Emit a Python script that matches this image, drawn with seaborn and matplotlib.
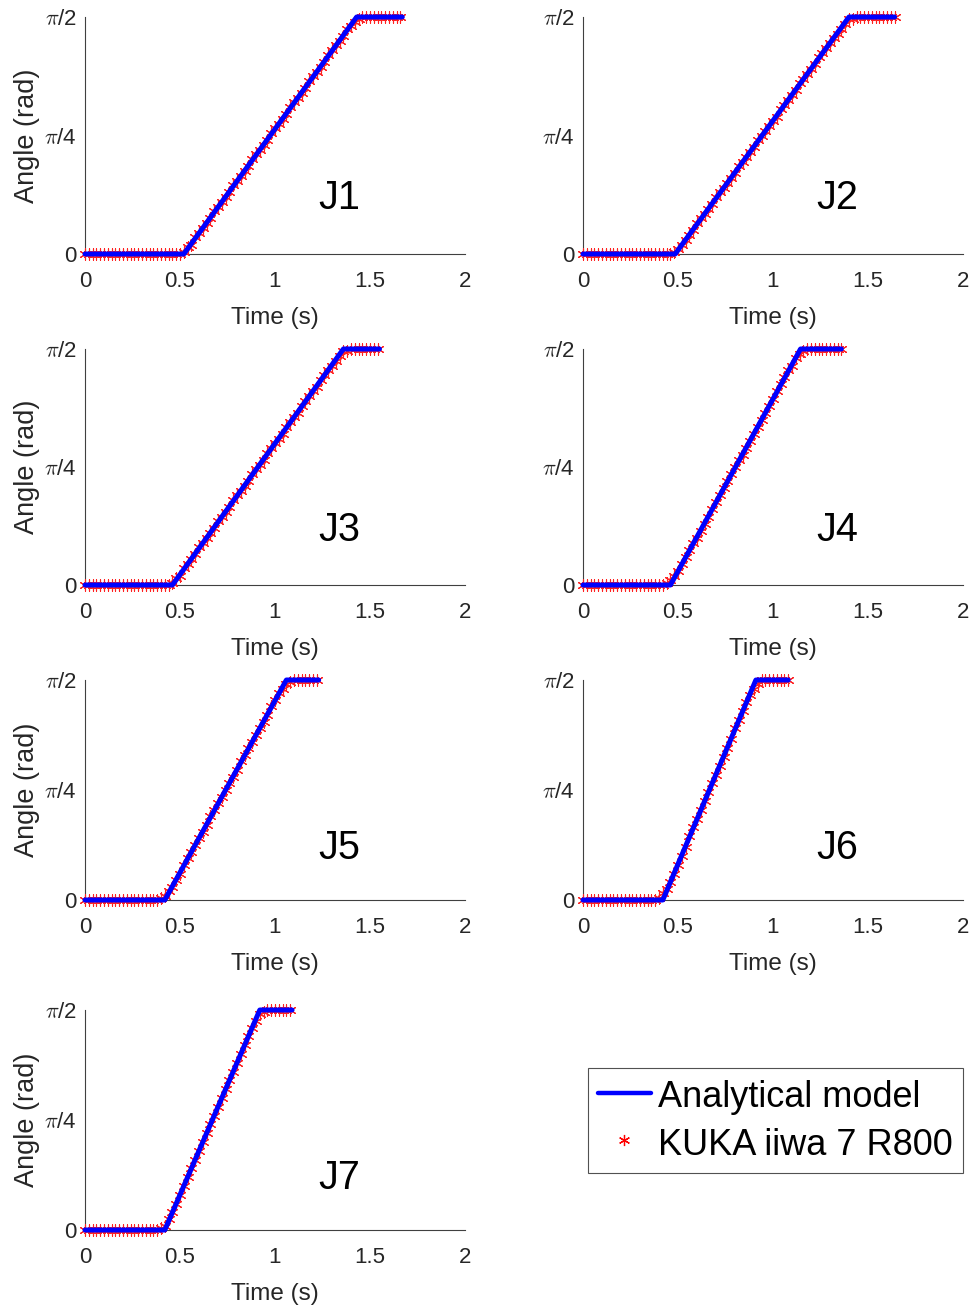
import numpy as np
import pandas as pd
import matplotlib
matplotlib.use("Agg")
import matplotlib.pyplot as plt
from matplotlib.lines import Line2D
import seaborn as sns

# ---------------- data (angles as fractions of pi/2) ----------------
joints = ["J1", "J2", "J3", "J4", "J5", "J6", "J7"]

# analytical model: knot times (s) [start, ramp begin, ramp end, stop]
model_t = {
    "J1": [0.0, 0.52, 1.43, 1.67],
    "J2": [0.0, 0.485, 1.40, 1.64],
    "J3": [0.0, 0.46, 1.36, 1.55],
    "J4": [0.0, 0.46, 1.145, 1.36],
    "J5": [0.0, 0.42, 1.06, 1.23],
    "J6": [0.0, 0.42, 0.91, 1.08],
    "J7": [0.0, 0.42, 0.92, 1.09],
}
model_v = [0.0, 0.0, 1.0, 1.0]

# measured KUKA samples (sample period 0.02 s)
sample_dt = 0.02
kuka_j1 = [0.0] * 26 + [0.01, 0.03, 0.04, 0.07, 0.09, 0.11, 0.13, 0.15, 0.18, 0.20,
                        0.22, 0.24, 0.26, 0.29, 0.31, 0.33, 0.35, 0.37, 0.40, 0.42,
                        0.44, 0.46, 0.48, 0.51, 0.53, 0.55, 0.57, 0.59, 0.62, 0.64,
                        0.66, 0.68, 0.70, 0.73, 0.75, 0.77, 0.79, 0.81, 0.84, 0.86,
                        0.88, 0.90, 0.92, 0.95, 0.96, 0.98, 0.99] + [1.0] * 11
kuka_j2 = [0.0] * 24 + [0.01, 0.02, 0.04, 0.06, 0.08, 0.10, 0.13, 0.15, 0.17, 0.19,
                        0.21, 0.24, 0.26, 0.28, 0.30, 0.32, 0.34, 0.37, 0.39, 0.41,
                        0.43, 0.45, 0.48, 0.50, 0.52, 0.54, 0.56, 0.58, 0.61, 0.63,
                        0.65, 0.67, 0.69, 0.72, 0.74, 0.76, 0.78, 0.80, 0.83, 0.85,
                        0.87, 0.89, 0.91, 0.93, 0.95, 0.97, 0.99, 0.99] + [1.0] * 11
kuka_j3 = [0.0] * 23 + [0.01, 0.03, 0.04, 0.07, 0.09, 0.11, 0.13, 0.16, 0.18, 0.20,
                        0.22, 0.24, 0.27, 0.29, 0.31, 0.33, 0.36, 0.38, 0.40, 0.42,
                        0.44, 0.47, 0.49, 0.51, 0.53, 0.56, 0.58, 0.60, 0.62, 0.64,
                        0.67, 0.69, 0.71, 0.73, 0.76, 0.78, 0.80, 0.82, 0.84, 0.87,
                        0.89, 0.91, 0.93, 0.95, 0.97, 0.99, 0.99] + [1.0] * 8
kuka_j4 = [0.0] * 22 + [0.01, 0.02, 0.04, 0.06, 0.09, 0.12, 0.15, 0.18, 0.20, 0.23,
                        0.26, 0.29, 0.32, 0.35, 0.38, 0.41, 0.44, 0.47, 0.50, 0.53,
                        0.55, 0.58, 0.61, 0.64, 0.67, 0.70, 0.73, 0.76, 0.79, 0.82,
                        0.85, 0.88, 0.91, 0.93, 0.96, 0.98, 0.99] + [1.0] * 10
kuka_j5 = [0.0] * 20 + [0.01, 0.02, 0.04, 0.06, 0.09, 0.12, 0.16, 0.19, 0.22, 0.25,
                        0.28, 0.31, 0.34, 0.38, 0.41, 0.44, 0.47, 0.50, 0.53, 0.56,
                        0.59, 0.63, 0.66, 0.69, 0.72, 0.75, 0.78, 0.81, 0.84, 0.88,
                        0.91, 0.94, 0.96, 0.98, 0.99] + [1.0] * 7
kuka_j6 = [0.0] * 20 + [0.01, 0.03, 0.05, 0.08, 0.12, 0.16, 0.20, 0.24, 0.29, 0.33,
                        0.37, 0.41, 0.45, 0.49, 0.53, 0.57, 0.61, 0.65, 0.69, 0.73,
                        0.78, 0.82, 0.86, 0.90, 0.93, 0.96, 0.98] + [1.0] * 8
kuka_j7 = [0.0] * 20 + [0.01, 0.02, 0.05, 0.08, 0.12, 0.16, 0.20, 0.24, 0.28, 0.32,
                        0.36, 0.40, 0.44, 0.48, 0.52, 0.56, 0.60, 0.64, 0.68, 0.72,
                        0.76, 0.80, 0.84, 0.88, 0.92, 0.95, 0.98, 0.99] + [1.0] * 7
kuka = {"J1": kuka_j1, "J2": kuka_j2, "J3": kuka_j3, "J4": kuka_j4,
        "J5": kuka_j5, "J6": kuka_j6, "J7": kuka_j7}

x_ticks = [0, 0.5, 1, 1.5, 2]
x_tick_labels = ["0", "0.5", "1", "1.5", "2"]
y_ticks = [0, np.pi / 4, np.pi / 2]
y_tick_labels = ["0", r"$\pi$/4", r"$\pi$/2"]

legend_labels = ["Analytical model", "KUKA iiwa 7 R800"]

# ---------------- style ----------------
sns.set_theme(style="white")
plt.rcParams["font.family"] = ["Liberation Sans", "DejaVu Sans"]
plt.rcParams["mathtext.fontset"] = "cm"

W, H = 976, 1309
fig = plt.figure(figsize=(W / 100, H / 100), dpi=100)

col_x = [85, 583]
ax_w = 380
rows = [(17, 254), (349, 585), (680, 900), (1010, 1230)]

axis_color = "#404040"
text_color = "#262626"
asterisk = (6, 2, 0)

for k, j in enumerate(joints):
    r, c = divmod(k, 2)
    top, bot = rows[r]
    ax = fig.add_axes([col_x[c] / W, 1 - bot / H, ax_w / W, (bot - top) / H])

    n = len(kuka[j])
    df_k = pd.DataFrame({"t": np.arange(n) * sample_dt, "q": np.array(kuka[j]) * np.pi / 2})
    df_m = pd.DataFrame({"t": model_t[j], "q": np.array(model_v) * np.pi / 2})

    sns.scatterplot(data=df_k, x="t", y="q", ax=ax, marker=asterisk, s=66,
                    color="#ff2020", edgecolor="#ff2020", linewidths=0.8, clip_on=False,
                    zorder=3, legend=False)
    sns.lineplot(data=df_m, x="t", y="q", ax=ax, color="blue", linewidth=3.6,
                 clip_on=False, zorder=4, legend=False)

    ax.set_xlim(0, 2)
    ax.set_ylim(0, np.pi / 2)
    ax.set_xticks(x_ticks)
    ax.set_xticklabels(x_tick_labels)
    ax.set_yticks(y_ticks)
    ax.set_yticklabels(y_tick_labels)
    ax.tick_params(axis="both", direction="in", length=4, width=0.8, color=axis_color,
                   labelsize=16, labelcolor=text_color)
    ax.tick_params(axis="x", pad=12)
    ax.tick_params(axis="y", pad=6)
    for s in ["top", "right"]:
        ax.spines[s].set_visible(False)
    for s in ["left", "bottom"]:
        ax.spines[s].set_color(axis_color)
        ax.spines[s].set_linewidth(0.8)
    ax.set_xlabel("Time (s)", fontsize=17.5, color=text_color, labelpad=11)
    ax.set_ylabel("Angle (rad)" if c == 0 else "", fontsize=19.5, color=text_color,
                  labelpad=3)
    ax.text(0.67, 0.235, j, transform=ax.transAxes, fontsize=28.5, ha="center",
            va="center", color="black")
    ax.set_facecolor("white")

handles = [
    Line2D([], [], color="blue", linewidth=3.2),
    Line2D([], [], color="red", marker=asterisk, linestyle="none", markersize=8,
           markeredgewidth=0.9),
]
leg = fig.legend(handles, legend_labels, loc="upper left",
                 bbox_to_anchor=(588 / W, 1 - 1068 / H), borderaxespad=0,
                 fontsize=26, frameon=True, fancybox=False, handlelength=1.47,
                 handleheight=1.1, handletextpad=0.2, borderpad=0.27,
                 labelspacing=0.28)
leg.get_frame().set_edgecolor("#262626")
leg.get_frame().set_linewidth(0.8)
for t in leg.get_texts():
    t.set_color("black")

fig.savefig("out.png", dpi=100, facecolor="white")
